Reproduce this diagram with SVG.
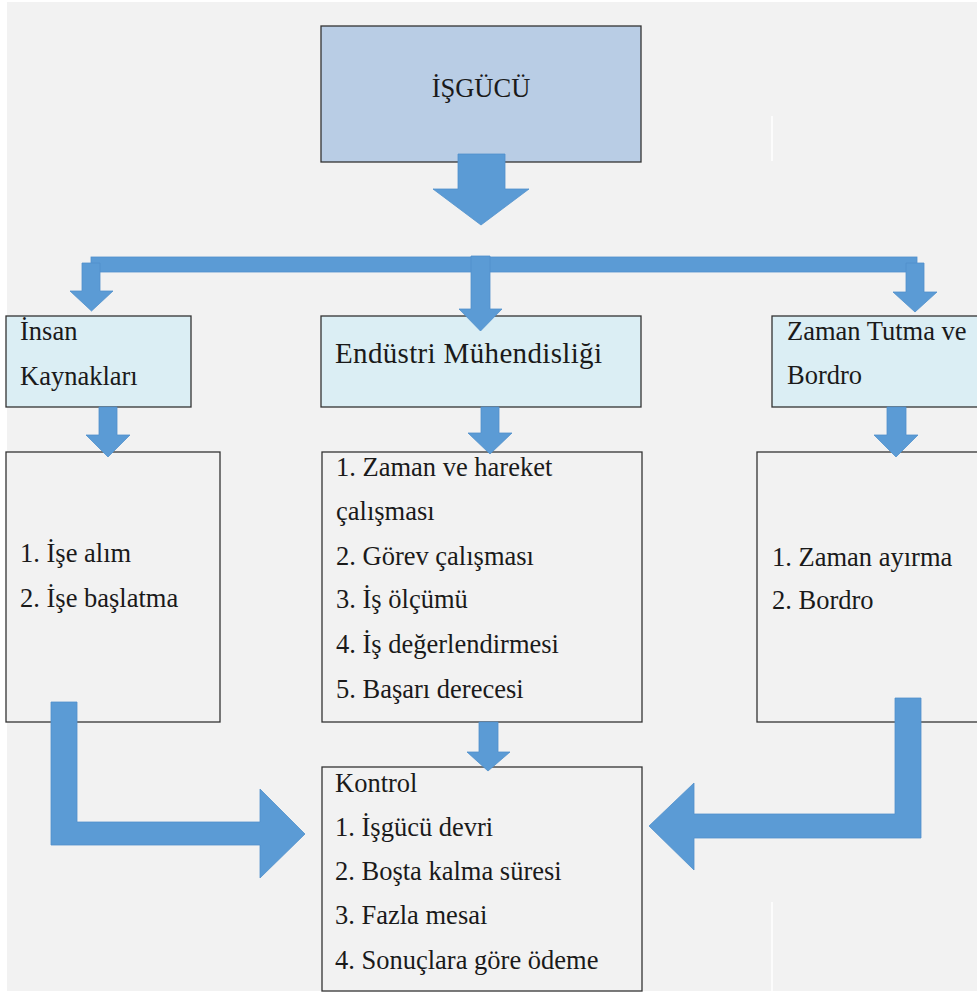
<svg xmlns="http://www.w3.org/2000/svg" width="977" height="992" viewBox="0 0 977 992">
<style>
.t{font-family:'Liberation Serif','Times New Roman',serif;font-size:26.5px;fill:#1a1a1a}
.box{stroke:#333;stroke-width:1.3}
.b1{fill:#b9cde5}
.b2{fill:#dbeef4}
.b3{fill:#f2f2f2}
.arr{fill:#5b9bd5;stroke:#5090cc;stroke-width:0.8}
</style>
<rect x="0" y="0" width="977" height="992" fill="#ffffff"/>
<rect x="7" y="2" width="970" height="989" fill="#f2f2f2"/>
<line x1="772" y1="116" x2="772" y2="161" stroke="#ffffff" stroke-width="1.5"/>
<line x1="772" y1="902" x2="772" y2="991" stroke="#ffffff" stroke-width="1.5"/>
<g id="isgucu">
<rect class="box b1" x="321" y="26" width="320" height="136"/>
<text class="t" x="481" y="97" text-anchor="middle">İŞGÜCÜ</text>
</g>
<g id="insan-kaynaklari">
<rect class="box b2" x="6" y="316" width="185" height="91"/>
<text class="t" x="20" y="340">İnsan</text>
<text class="t" x="20" y="385">Kaynakları</text>
</g>
<g id="endustri">
<rect class="box b2" x="321" y="316" width="320" height="91"/>
<text class="t" x="335" y="363" style="font-size:29px" textLength="267" lengthAdjust="spacing">Endüstri Mühendisliği</text>
</g>
<g id="zaman-tutma">
<rect class="box b2" x="772" y="316" width="210" height="91"/>
<text class="t" x="787" y="340">Zaman Tutma ve</text>
<text class="t" x="787" y="384">Bordro</text>
</g>
<g id="ik-list">
<rect class="box b3" x="6" y="452" width="214" height="270"/>
<text class="t" x="20" y="562">1. İşe alım</text>
<text class="t" x="20" y="607">2. İşe başlatma</text>
</g>
<g id="em-list">
<rect class="box b3" x="322" y="452" width="320" height="270"/>
<text class="t" x="336" y="476">1. Zaman ve hareket</text>
<text class="t" x="336" y="520">çalışması</text>
<text class="t" x="336" y="565">2. Görev çalışması</text>
<text class="t" x="336" y="608">3. İş ölçümü</text>
<text class="t" x="336" y="653">4. İş değerlendirmesi</text>
<text class="t" x="336" y="698">5. Başarı derecesi</text>
</g>
<g id="zt-list">
<rect class="box b3" x="757" y="452" width="225" height="270"/>
<text class="t" x="772" y="566">1. Zaman ayırma</text>
<text class="t" x="772" y="609">2. Bordro</text>
</g>
<g id="kontrol">
<rect class="box b3" x="322" y="767" width="320" height="224"/>
<text class="t" x="335" y="792">Kontrol</text>
<text class="t" x="335" y="836">1. İşgücü devri</text>
<text class="t" x="335" y="880">2. Boşta kalma süresi</text>
<text class="t" x="335" y="924">3. Fazla mesai</text>
<text class="t" x="335" y="969">4. Sonuçlara göre ödeme</text>
</g>
<g id="connectors">
<polygon class="arr" points="458,154 505,154 505,189 529,189 481,225 433,189 458,189"/>
<rect class="arr" x="91" y="257" width="826" height="15"/>
<polygon class="arr" points="82,263 100,263 100,291 113,291 91.5,311 70,291 82,291"/>
<polygon class="arr" points="471,256 490,256 490,309 502,309 480.5,331 459,309 471,309"/>
<polygon class="arr" points="906,263 924,263 924,292 937,292 915,312 893,292 906,292"/>
<polygon class="arr" points="99,407 117,407 117,435 130,435 108,457 86,435 99,435"/>
<polygon class="arr" points="481,407 499,407 499,433 512,433 490,454 468,433 481,433"/>
<polygon class="arr" points="887,407 906,407 906,435 918,435 896,457 874,435 887,435"/>
<polygon class="arr" points="479,722 498,722 498,752 510,752 488,771 467,752 479,752"/>
<polygon class="arr" points="51,702 77,702 77,822 260,822 260,789 305,834 260,878 260,845 51,845"/>
<polygon class="arr" points="921,698 921,838 694,838 694,870 649,826 694,783 694,814 895,814 895,698"/>
</g>
</svg>
